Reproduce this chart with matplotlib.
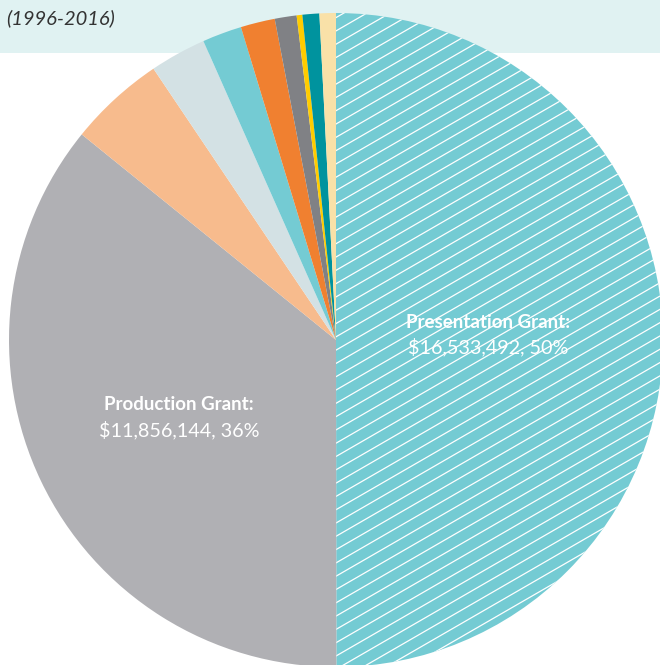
import numpy as np
import matplotlib
matplotlib.use('Agg')
import matplotlib.pyplot as plt
from matplotlib.patches import Rectangle
from matplotlib.collections import LineCollection

# grant totals by type (1996-2016), biggest first, clockwise from the top
grant_types = ['Presentation Grant', 'Production Grant', 'Type C', 'Type D', 'Type E',
               'Type F', 'Type G', 'Type H', 'Type I', 'Type J']
amounts = [16533492, 11856144, 1572000, 920000, 645000,
           560000, 357000, 93000, 275000, 268000]
slice_colors = ['#74cbd3', '#b0b0b4', '#f7bb8d', '#d3e1e4', '#74cbd3',
                '#f08030', '#808185', '#ffcc00', '#00939e', '#f9e1a8']
labelled = {0: ('Presentation Grant:', '$16,533,492, 50%'),
            1: ('Production Grant:', '$11,856,144, 36%')}

W, H = 660, 665
cx, cy, R = 336, 340, 327  # pie centre / radius in pixels

fig = plt.figure(figsize=(W / 100, H / 100), dpi=100)
ax = fig.add_axes([0, 0, 1, 1])
ax.patch.set_alpha(0)

# pale header band behind the top of the pie
ax.add_patch(Rectangle((0, (H - 53) / H), 1, 53 / H, transform=ax.transAxes,
                       facecolor='#e0f2f2', edgecolor='none', zorder=0))

wedges, _ = ax.pie(amounts, colors=slice_colors, startangle=90, counterclock=False,
                   radius=1, wedgeprops=dict(linewidth=0, zorder=2))
ax.set_xlim(-cx / R, (W - cx) / R)
ax.set_ylim(-(H - cy) / R, cy / R)
ax.set_aspect('auto')
ax.axis('off')

# diagonal white hatch on the presentation slice
slope = np.tan(np.radians(30))
step = 13.3 / R
segs = [[(-2, slope * -2 + c), (2, slope * 2 + c)] for c in np.arange(-3, 3, step)]
hatch = LineCollection(segs, colors='white', linewidths=0.9, zorder=3)
ax.add_collection(hatch)
hatch.set_clip_path(wedges[0])

fam = ['Lato', 'DejaVu Sans']
positions = {0: (488, 323, 347), 1: (179, 405, 430)}
for i, (title, val) in labelled.items():
    px, y1, y2 = positions[i]
    ax.text((px - cx) / R, (cy - y1) / R, title, ha='center', va='center', color='white',
            fontsize=13.5, fontweight='bold', family=fam, zorder=5)
    ax.text((px - cx) / R, (cy - y2) / R, val, ha='center', va='center', color='white',
            fontsize=14.2, family=fam, zorder=5)

fig.text(6 / W, 1 - 18 / H, '(1996-2016)', ha='left', va='center', color='#333333',
         fontsize=14.5, style='italic', family=fam)

fig.savefig('out.png', dpi=100)
